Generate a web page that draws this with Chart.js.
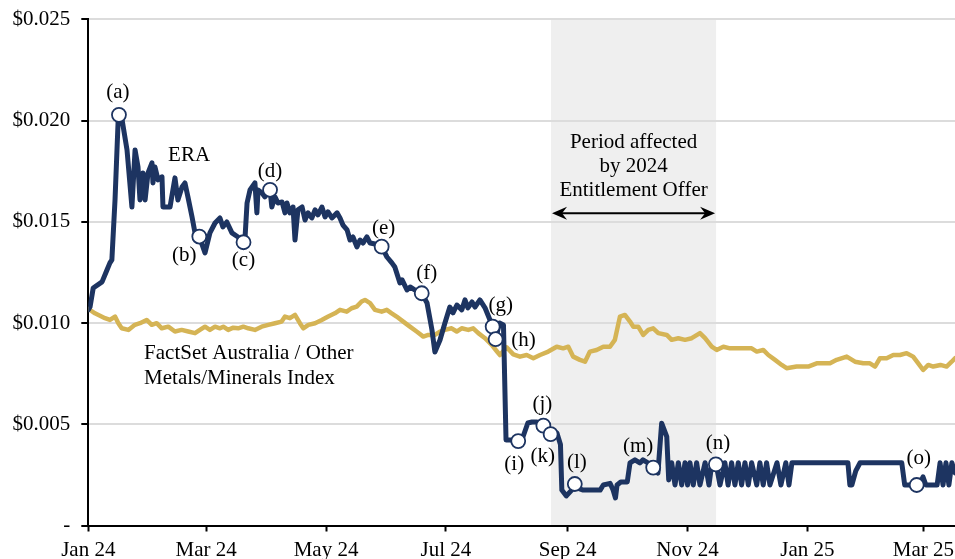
<!DOCTYPE html>
<html><head><meta charset="utf-8">
<script src="https://cdn.jsdelivr.net/npm/chart.js@4.4.1/dist/chart.umd.min.js"></script>
<style>html,body{margin:0;padding:0;background:#fff;}canvas{display:block;}</style>
</head><body>
<canvas id="c" width="955" height="559"></canvas>
<script>
// x values are days since 1 Jan 2024
const eraDays = [0,0.9,2.5,7,9.5,11,12,13.6,15.3,17.2,19.7,22.2,23.8,25.3,26.3,27.8,28.9,30.4,32.4,32.9,33.9,35.5,37.5,38,41.6,44.1,45.6,47.7,49.2,50.7,52.8,54.3,56.5,59.4,61.9,64.5,67,68.5,70.5,73.1,76.2,79,79.7,80.8,82.3,84.8,85.8,86.4,88.4,89.9,92.5,93.4,95,96.5,98.6,100.1,101.1,102.6,104.2,105.2,106.7,108.8,110.3,111.8,113.8,115.4,116.9,118.9,120.5,122,124,126.6,128.1,129.6,131.7,133.2,134.7,136.7,138.3,139.8,141.8,143.4,146,149.3,152,154.5,156,158.6,159.7,162.2,163.8,166.3,169.7,172.4,174.9,176.4,179,181.5,184,185.6,187.6,190.1,191.7,193.2,195.3,196.8,199.3,201.9,203.4,205.8,207.3,209.3,211.3,212.6,214.6,218.8,221.2,223.7,225.8,228.3,231.6,235.3,238.5,240.3,241,243.3,246,247.6,251.9,260.5,262.1,265.6,267.1,268.3,269.1,271,274.3,275.7,278.2,280.7,282.3,284.8,287.5,289.9,291.8,294.4,295.4,296.9,298.6,300.3,302,303.7,305,306.2,307.9,309.6,311.3,313.9,315.9,317.4,319.4,321.5,324,325.6,327.4,329.1,330.8,332.5,334.2,335.9,337.6,340.2,341.8,343.5,345.2,346.9,350.5,352.5,355,356.6,358.1,386.6,387.6,388.6,390.6,392.8,414,415.5,421.6,423,424.8,426.3,432,433.5,435,436.5,438,439.5,441.1];
const eraValues = [0.01065,0.0108,0.01173,0.01203,0.01262,0.01297,0.01312,0.01608,0.02028,0.02003,0.01855,0.01573,0.01855,0.01771,0.01608,0.01741,0.01608,0.01741,0.01791,0.01692,0.01771,0.01707,0.01722,0.01573,0.01573,0.01717,0.01608,0.01672,0.01692,0.01623,0.01524,0.01445,0.01427,0.01346,0.01445,0.01494,0.01519,0.01475,0.01499,0.01445,0.01425,0.01399,0.0141,0.01593,0.01657,0.01692,0.01544,0.01657,0.01642,0.01623,0.01658,0.01573,0.01623,0.01593,0.01598,0.01544,0.01593,0.01544,0.01573,0.0141,0.01559,0.01573,0.01509,0.01544,0.01519,0.01559,0.01534,0.01573,0.01524,0.01549,0.01519,0.01544,0.01519,0.01484,0.0146,0.0141,0.01425,0.01376,0.0141,0.01395,0.01425,0.01395,0.0139,0.01377,0.01326,0.01297,0.01277,0.01198,0.01213,0.01163,0.01178,0.01163,0.01147,0.01099,0.00966,0.00857,0.00916,0.01,0.01079,0.0105,0.01089,0.01065,0.01114,0.01075,0.01104,0.01079,0.01114,0.01075,0.0104,0.00982,0.0092,0.01,0.0099,0.00422,0.00422,0.00417,0.00437,0.00506,0.00511,0.00511,0.00493,0.00451,0.00457,0.004,0.00175,0.00146,0.00175,0.0019,0.00175,0.00175,0.002,0.00208,0.00175,0.00136,0.002,0.00215,0.00215,0.00309,0.00324,0.00309,0.00324,0.00309,0.00286,0.00259,0.00505,0.00439,0.00225,0.0031,0.002,0.0031,0.002,0.0031,0.002,0.0031,0.002,0.0031,0.002,0.0031,0.002,0.0031,0.0031,0.002,0.0031,0.002,0.0031,0.002,0.0031,0.002,0.0031,0.002,0.0031,0.002,0.0031,0.002,0.0031,0.002,0.0031,0.002,0.0031,0.002,0.0031,0.0031,0.002,0.002,0.0027,0.0031,0.0031,0.002,0.002,0.002,0.0024,0.002,0.002,0.0031,0.002,0.0031,0.002,0.0031,0.0026];

const indexDays = [0,3.4,8.5,11,13.6,15.3,17,20.4,23.7,26.3,29.7,32.3,34.8,37.4,40.7,44.1,47.5,50.9,54.3,56.8,59.4,61.9,64.5,67,68.7,71.2,73.8,76.3,78.9,81.4,84.8,88.2,91.6,95,98.4,100.1,102.6,105.2,107.7,109.4,112,115.4,118.8,122.1,125.5,128.1,131.5,134,136.6,139.1,140.8,143.4,145.9,149.3,151.9,154.4,156.9,160.3,163.7,167.1,170.5,173,176.4,179,181.5,184.9,187.5,190,193.4,195.9,198.5,201.9,205.3,207.8,209.5,212.9,216.3,219.7,223.1,226.5,229.9,234.1,238.4,241.7,244.3,246.8,250.2,252.8,255.3,258.7,262.1,265.5,268,270.6,273.1,275.7,277.4,279.9,282.4,285,287.5,290.1,294.4,296.9,300.3,303.7,307.1,311.3,313.9,317.3,319.8,323.2,326.6,331.7,337.6,340.2,343.5,346.1,349.5,352.9,355.4,360.5,366.4,370.7,377.5,380.9,386,390.2,394.4,397.8,400.4,402.9,406.3,409.7,413.1,416.5,419.8,422.4,424.9,427.5,430,433.7,436.8,439.4,441.1];
const indexValues = [0.0107,0.01048,0.01024,0.01015,0.01032,0.00999,0.00974,0.00966,0.00991,0.00999,0.01015,0.00991,0.00999,0.00974,0.00982,0.00958,0.00966,0.00958,0.0095,0.00966,0.00982,0.00966,0.00982,0.00974,0.00982,0.00966,0.00977,0.00974,0.00982,0.00974,0.00966,0.00982,0.00991,0.00999,0.01007,0.01032,0.01024,0.0104,0.00999,0.00974,0.00991,0.00999,0.01015,0.01032,0.01048,0.01065,0.01056,0.01073,0.01081,0.01106,0.01114,0.01098,0.01065,0.01056,0.01065,0.01048,0.01032,0.01007,0.00982,0.00958,0.00933,0.00941,0.00941,0.00958,0.00966,0.00974,0.00958,0.00974,0.00966,0.00974,0.0095,0.00925,0.00892,0.00862,0.00842,0.0088,0.00845,0.00834,0.00842,0.00826,0.00842,0.00859,0.00883,0.00875,0.00883,0.00834,0.00818,0.00809,0.00859,0.00867,0.00883,0.00883,0.00917,0.01032,0.0104,0.01007,0.00982,0.00982,0.00941,0.00966,0.00974,0.0095,0.00941,0.00917,0.00925,0.00917,0.00925,0.0095,0.00925,0.00883,0.00867,0.00883,0.00875,0.00875,0.00875,0.00859,0.00867,0.00842,0.00818,0.00793,0.00777,0.00785,0.00785,0.00801,0.00801,0.00818,0.00834,0.00809,0.00801,0.00801,0.00785,0.00826,0.00826,0.00842,0.00842,0.00851,0.00834,0.00801,0.00768,0.00793,0.00785,0.00793,0.00785,0.00809,0.00826];

const markerLabels = ['(a)','(b)','(c)','(d)','(e)','(f)','(g)','(h)','(i)','(j)','(k)','(l)','(m)','(n)','(o)'];
const markerDays = [15.6,56.5,79,92.5,149.3,169.7,205.8,207.3,218.8,231.6,235.3,247.6,287.5,319.4,421.6];
const markerValues = [0.02028,0.01427,0.01399,0.01658,0.01377,0.01147,0.00982,0.0092,0.00417,0.00493,0.00451,0.00205,0.00286,0.00302,0.002];

const xTickDays = [0,60,121,182,244,305,366,425];
const xTickLabels = ['Jan 24','Mar 24','May 24','Jul 24','Sep 24','Nov 24','Jan 25','Mar 25'];
const yTickValues = [0,0.005,0.01,0.015,0.02,0.025];
const yTickLabels = ['-','$0.005','$0.010','$0.015','$0.020','$0.025'];

const offerPeriodDays = [235.5, 319.5];
const offerText = ['Period affected','by 2024','Entitlement Offer'];
const eraLabel = 'ERA';
const indexLabel = ['FactSet Australia / Other','Metals/Minerals Index'];

// ---- styling / placement (pixels) ----
const NAVY = '#1d3461';
const GOLD = '#d5b455';
const FONT = "'Liberation Serif','Times New Roman',serif";
const labelOffsets = [[-1,-22],[-15,19],[0,18],[0,-18],[2,-18],[5,-20],[8,-21],[28,1],[-4,23],[-1,-21],[-8,22],[2,-22],[-15,-21],[2,-21],[2,-27]];

Chart.defaults.font.family = FONT;
Chart.defaults.font.size = 21;
Chart.defaults.color = '#000';

const toXY = (xs, ys) => xs.map((x, i) => ({x: x, y: ys[i]}));

const annot = {
  id: 'annot',
  beforeDraw(chart) {
    const {ctx, chartArea: a, scales: {x}} = chart;
    const x0 = x.getPixelForValue(offerPeriodDays[0]);
    const x1 = x.getPixelForValue(offerPeriodDays[1]);
    ctx.save();
    ctx.fillStyle = '#efefef';
    ctx.fillRect(x0, a.top, x1 - x0, a.bottom - a.top);
    ctx.restore();
  },
  afterDatasetsDraw(chart) {
    const {ctx, scales: {x, y}} = chart;
    const x0 = x.getPixelForValue(offerPeriodDays[0]);
    const x1 = x.getPixelForValue(offerPeriodDays[1]);
    const cx = (x0 + x1) / 2;
    ctx.save();
    ctx.font = '21px ' + FONT;
    ctx.fillStyle = '#000';
    ctx.textAlign = 'center';
    ctx.textBaseline = 'middle';
    const ty = y.getPixelForValue(0.0189);
    offerText.forEach((t, i) => ctx.fillText(t, cx, ty + i * 24));
    // double arrow
    const ay = y.getPixelForValue(0.01542);
    const L = 15, H = 6.5, N = 10;
    ctx.strokeStyle = '#000';
    ctx.lineWidth = 2;
    ctx.beginPath();
    ctx.moveTo(x0 + N, ay); ctx.lineTo(x1 - N, ay); ctx.stroke();
    ctx.beginPath();
    ctx.moveTo(x0 + 1, ay); ctx.lineTo(x0 + 1 + L, ay - H); ctx.lineTo(x0 + 1 + N, ay); ctx.lineTo(x0 + 1 + L, ay + H); ctx.closePath(); ctx.fill();
    ctx.beginPath();
    ctx.moveTo(x1 - 1, ay); ctx.lineTo(x1 - 1 - L, ay - H); ctx.lineTo(x1 - 1 - N, ay); ctx.lineTo(x1 - 1 - L, ay + H); ctx.closePath(); ctx.fill();
    // series labels
    ctx.fillText(eraLabel, x.getPixelForValue(51.3), y.getPixelForValue(0.01826));
    ctx.textAlign = 'left';
    ctx.fillText(indexLabel[0], x.getPixelForValue(28.4), y.getPixelForValue(0.00851));
    ctx.fillText(indexLabel[1], x.getPixelForValue(28.4), y.getPixelForValue(0.00727));
    // marker labels
    ctx.textAlign = 'center';
    markerLabels.forEach((t, i) => {
      const px = x.getPixelForValue(markerDays[i]) + labelOffsets[i][0];
      const py = y.getPixelForValue(markerValues[i]) + labelOffsets[i][1];
      ctx.fillText(t, px, py);
    });
    ctx.restore();
  }
};

new Chart(document.getElementById('c'), {
  type: 'line',
  data: {
    datasets: [
      {label: 'Markers', data: toXY(markerDays, markerValues), showLine: false, pointRadius: 7, pointBackgroundColor: '#fff', pointBorderColor: NAVY, pointBorderWidth: 1.8, order: 0},
      {label: 'ERA', data: toXY(eraDays, eraValues), borderColor: NAVY, borderWidth: 5, pointRadius: 0, tension: 0, borderJoinStyle: 'round', borderCapStyle: 'round', order: 1},
      {label: 'Index', data: toXY(indexDays, indexValues), borderColor: GOLD, borderWidth: 4.5, pointRadius: 0, tension: 0, borderJoinStyle: 'round', borderCapStyle: 'round', order: 2}
    ]
  },
  options: {
    responsive: false,
    animation: false,
    devicePixelRatio: 1,
    events: [],
    layout: {autoPadding: false, padding: {top: 19.3, right: 0, left: 0, bottom: 0}},
    plugins: {legend: {display: false}, tooltip: {enabled: false}},
    scales: {
      x: {
        type: 'linear', min: 0, max: 441.1,
        afterBuildTicks: s => { s.ticks = xTickDays.map(v => ({value: v})); },
        afterFit: s => { s.height = 33.5; s.paddingLeft = 0; s.paddingRight = 0; },
        ticks: {autoSkip: false, maxRotation: 0, padding: 6, color: '#000', font: {size: 21},
          callback: v => { const i = xTickDays.indexOf(v); return i >= 0 ? xTickLabels[i] : ''; }},
        grid: {drawOnChartArea: false, drawTicks: true, tickLength: 6, tickColor: '#000', tickWidth: 2},
        border: {color: '#000', width: 2}
      },
      y: {
        min: 0, max: 0.025,
        afterBuildTicks: s => { s.ticks = yTickValues.map(v => ({value: v})); },
        afterFit: s => { s.width = 88.3; s.paddingTop = 0; s.paddingBottom = 0; },
        ticks: {padding: 11, color: '#000', font: {size: 21},
          callback: v => { const i = yTickValues.indexOf(v); return i >= 0 ? yTickLabels[i] : ''; }},
        grid: {color: '#dcdcdc', lineWidth: 2, tickLength: 7, tickColor: '#000', tickWidth: 2},
        border: {color: '#000', width: 2}
      }
    }
  },
  plugins: [annot]
});
</script>
</body></html>
